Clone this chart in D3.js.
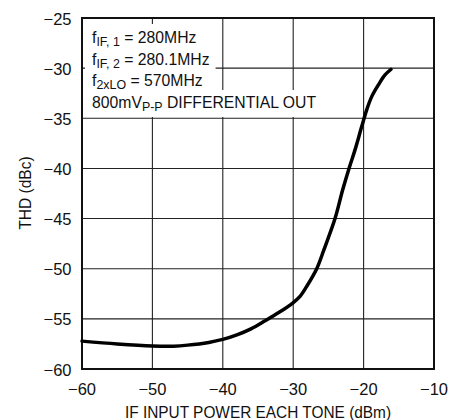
<!DOCTYPE html>
<html><head><meta charset="utf-8">
<script src="https://cdn.jsdelivr.net/npm/d3@7"></script>
<style>body{margin:0;background:#fff}svg{display:block}</style>
</head><body>
<svg id="c" width="454" height="420"></svg>
<script>
const xTicks = [-60,-50,-40,-30,-20,-10];
const yTicks = [-60,-55,-50,-45,-40,-35,-30,-25];
const inputPower = [-60,-55,-50,-47,-45,-42,-40,-38,-36,-34,-32,-30.07,-29.03,-28.08,-26.66,-25.63,-24.06,-22.97,-22.07,-21.22,-20.27,-19.56,-18.85,-17.9,-16.96,-16.1];
const thd = [-57.22,-57.5,-57.7,-57.72,-57.62,-57.35,-57.05,-56.6,-56.0,-55.2,-54.35,-53.42,-52.76,-51.76,-50.0,-48.1,-45.0,-42.13,-40.0,-38.15,-35.83,-34.16,-32.84,-31.67,-30.68,-30.11];
const legendLines = [
  [["f",""],["IF, 1","sub"],[" = 280MHz",""]],
  [["f",""],["IF, 2","sub"],[" = 280.1MHz",""]],
  [["f",""],["2xLO","sub"],[" = 570MHz",""]],
  [["800mV",""],["P-P","sub"],[" DIFFERENTIAL OUT",""]]
];
const xLabel = "IF INPUT POWER EACH TONE (dBm)";
const yLabel = "THD (dBc)";

const font = "'Liberation Sans',Arial,sans-serif";
const svg = d3.select("#c");
const L=82,R=434,T=18,B=369;
const x = d3.scaleLinear().domain([-60,-10]).range([L,R]);
const y = d3.scaleLinear().domain([-60,-25]).range([B,T]);
const fmt = d => String(d).replace("-","\u2212");

// grid
svg.append("g").selectAll("line").data(xTicks).join("line")
  .attr("x1",d=>x(d)).attr("x2",d=>x(d)).attr("y1",T).attr("y2",B)
  .attr("stroke","#222").attr("stroke-width",1.1);
svg.append("g").selectAll("line").data(yTicks).join("line")
  .attr("x1",L).attr("x2",R).attr("y1",d=>y(d)).attr("y2",d=>y(d))
  .attr("stroke","#222").attr("stroke-width",1.1);

// legend with white backgrounds
const lg = svg.append("g");
const baseY=[43.3,64.7,86.2,107.8];
const texts=[];
const sx=0.955;
legendLines.forEach((parts,i)=>{
  const t = lg.append("text").attr("transform",`translate(92,${baseY[i]}) scale(${sx},1)`)
    .attr("font-family",font).attr("font-size",16.5).attr("fill","#111");
  parts.forEach(([s,k],j)=>{
    const ts=t.append("tspan").text(s);
    if(k==="sub"){ts.attr("font-size",13).attr("dy",3);}
    else if(j>0){ts.attr("dy",-3);}
  });
  texts.push(t);
});
const bb = texts.map(t=>t.node().getBBox().width*sx);
const w3 = Math.max(bb[0],bb[1],bb[2]);
lg.insert("rect",":first-child").attr("x",85).attr("y",24).attr("width",92+w3+6-85).attr("height",90-24).attr("fill","#fff");
lg.insert("rect",":first-child").attr("x",85).attr("y",90).attr("width",92+bb[3]+4-85).attr("height",117-90).attr("fill","#fff");

// frame
svg.append("rect").attr("x",L).attr("y",T).attr("width",R-L).attr("height",B-T)
  .attr("fill","none").attr("stroke","#111").attr("stroke-width",2);

// curve
const line = d3.line().x((d,i)=>x(inputPower[i])).y(d=>y(d)).curve(d3.curveCatmullRom.alpha(0.5));
svg.append("path").datum(thd).attr("d",line).attr("fill","none")
  .attr("stroke","#000").attr("stroke-width",3.5).attr("stroke-linecap","round");

// tick labels
svg.append("g").selectAll("text").data(xTicks).join("text")
  .attr("x",d=>x(d)).attr("y",394.5).attr("text-anchor","middle")
  .attr("font-family",font).attr("font-size",16.5).attr("fill","#111")
  .text(fmt);
svg.append("g").selectAll("text").data(yTicks).join("text")
  .attr("x",71.5).attr("y",d=>y(d)+6.5).attr("text-anchor","end")
  .attr("font-family",font).attr("font-size",16.5).attr("fill","#111")
  .text(fmt);

svg.append("text").attr("transform","translate(258,418) scale(0.934,1)").attr("text-anchor","middle")
  .attr("font-family",font).attr("font-size",16.5).attr("fill","#111").text(xLabel);
svg.append("text").attr("transform","translate(30.5,193) rotate(-90) scale(0.94,1)").attr("text-anchor","middle")
  .attr("font-family",font).attr("font-size",16.5).attr("fill","#111").text(yLabel);
</script>
</body></html>
